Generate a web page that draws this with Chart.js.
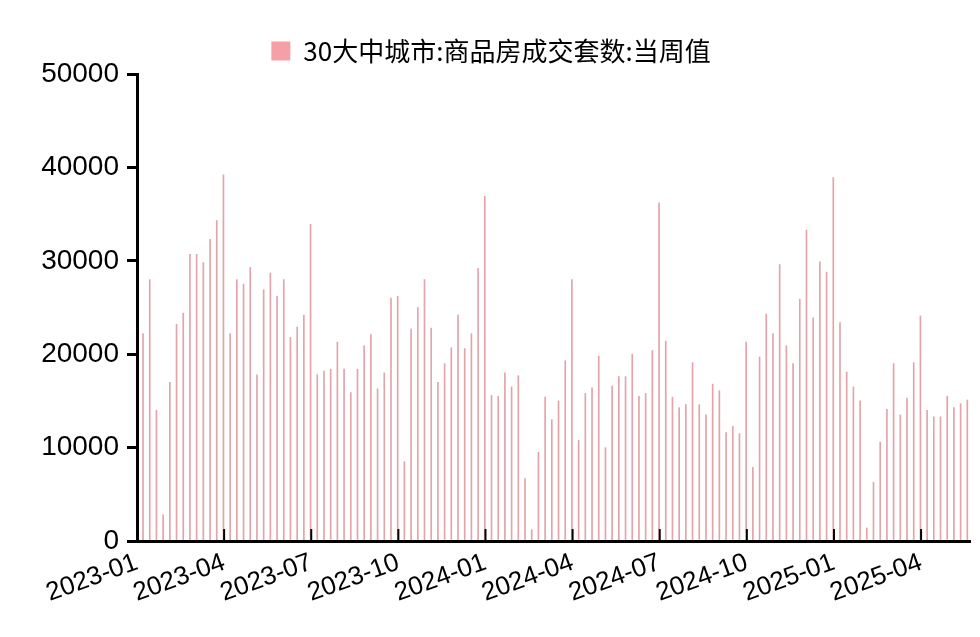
<!DOCTYPE html>
<html>
<head>
<meta charset="utf-8">
<script src="https://cdn.jsdelivr.net/npm/chart.js@4"></script>
<style>
  body { margin: 0; background: #fff; }
  #wrap { width: 980px; height: 637px; }
</style>
</head>
<body>
<div id="wrap"><canvas id="dataPlot"></canvas></div>
<script>
// weekly values, 2023-01 .. 2025-05
const weekly = [
  22200, 28000, 14000, 2800, 17000, 23200, 24400, 30700, 30700, 29800, 32300, 34300, 39200,
  22200, 28000, 27500, 29300, 17800, 26900, 28700, 26200, 28000, 21800, 22900, 24200, 33900,
  17800, 18200, 18400, 21300, 18400, 15900, 18400, 20900, 22100, 16300, 18000, 26000, 26200,
  8500, 22700, 25000, 28000, 22800, 17000, 19000, 20700, 24200, 20600, 22200, 29200, 36900,
  15600, 15500, 18000, 16500, 17700, 6700, 1200, 9500, 15400, 13000, 15000, 19300, 28000,
  10800, 15800, 16400, 19800, 10000, 16600, 17600, 17600, 20000, 15500, 15800, 20400, 36200,
  21400, 15400, 14300, 14600, 19100, 14600, 13500, 16800, 16100, 11600, 12300, 11500, 21300,
  7900, 19700, 24300, 22200, 29600, 20900, 19000, 25900, 33300, 23900, 29900, 28800, 38900,
  23400, 18100, 16500, 15000, 1400, 6300, 10600, 14100, 19000, 13500, 15300, 19100, 24100,
  14000, 13300, 13300, 15500, 14300, 14700, 15100
];
const quarterLabels = ['2023-01', '2023-04', '2023-07', '2023-10', '2024-01', '2024-04', '2024-07', '2024-10', '2025-01', '2025-04'];
const quarterPos = [-0.9, 12.1, 25.1, 38.1, 51.1, 64.1, 77.1, 90.1, 103.1, 116.1];

const points = weekly.map((v, i) => ({ x: i, y: v }));

const innerTicks = {
  id: 'innerTicks',
  afterDraw(chart) {
    const ctx = chart.ctx, xs = chart.scales.x, ys = chart.scales.y;
    ctx.save();
    ctx.strokeStyle = '#000';
    ctx.lineWidth = 2;
    quarterPos.forEach(p => {
      const px = xs.getPixelForValue(p);
      ctx.beginPath();
      ctx.moveTo(px, ys.bottom);
      ctx.lineTo(px, ys.bottom - 12);
      ctx.stroke();
    });
    ctx.restore();
  }
};

new Chart(document.getElementById('dataPlot'), {
  type: 'bar',
  data: {
    datasets: [{
      label: '30大中城市:商品房成交套数:当周值',
      data: points,
      backgroundColor: '#e3a3a8',
      barThickness: 1
    }]
  },
  options: {
    responsive: true,
    maintainAspectRatio: false,
    animation: false,
    layout: { padding: { left: 12, right: 10, top: 10, bottom: 22 } },
    plugins: {
      legend: {
        position: 'top',
        labels: {
          font: { family: '"Noto Sans CJK SC"', size: 26 },
          color: '#111',
          boxWidth: 19,
          boxHeight: 19,
          padding: 28,
          generateLabels: chart => [{ text: chart.data.datasets[0].label, fillStyle: '#f4a0a6', strokeStyle: '#f4a0a6', lineWidth: 0 }]
        }
      },
      tooltip: { enabled: false }
    },
    scales: {
      x: {
        type: 'linear',
        min: -0.9,
        max: 123.4,
        offset: false,
        afterBuildTicks: s => { s.ticks = quarterPos.map(v => ({ value: v })); },
        ticks: {
          autoSkip: false,
          minRotation: 20,
          maxRotation: 20,
          color: '#000',
          padding: 6,
          font: { family: '"Liberation Sans", Arial', size: 26 },
          callback: (v, i) => quarterLabels[i]
        },
        grid: { display: false, drawTicks: false },
        border: { color: '#000', width: 3 }
      },
      y: {
        min: 0,
        max: 50000,
        afterFit: s => { s.width = 125; },
        ticks: {
          stepSize: 10000,
          color: '#000',
          padding: 8,
          font: { family: '"Liberation Sans", Arial', size: 28 },
          callback: v => String(v)
        },
        grid: { display: true, drawOnChartArea: false, drawTicks: true, tickLength: 10, color: '#000', lineWidth: 3 },
        border: { color: '#000', width: 3 }
      }
    }
  },
  plugins: [innerTicks]
});
</script>
</body>
</html>
